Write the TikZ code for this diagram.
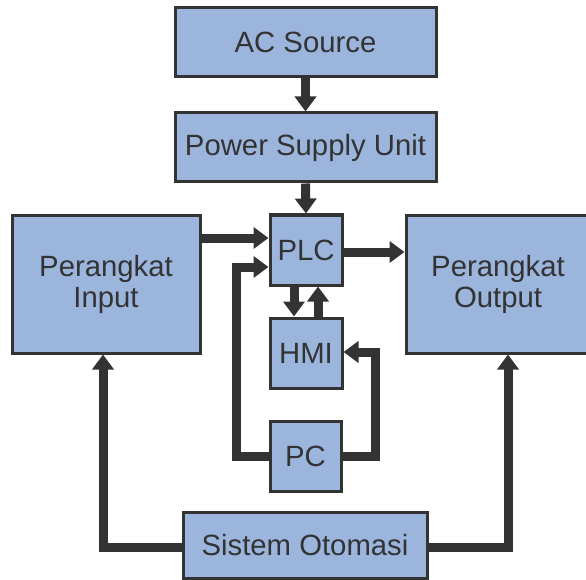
\documentclass[tikz,border=0pt]{standalone}
\usepackage{fontspec}
\setmainfont{Liberation Sans}
\usetikzlibrary{arrows.meta}
\definecolor{boxfill}{RGB}{155,181,221}
\definecolor{ink}{RGB}{51,51,51}
\begin{document}
\begin{tikzpicture}[x=1pt,y=-1pt,
  blk/.style={draw=ink,fill=boxfill,line width=3pt,text=ink,align=center,
    inner sep=0pt,font=\fontsize{29.3}{31}\selectfont},
  conn/.style={draw=ink,line width=9pt,-{Triangle[length=15pt,width=21pt]}}]
\useasboundingbox (0,0) rectangle (586,580);
\clip (0,0) rectangle (586,580);
\node[blk,minimum width=261pt,minimum height=69pt] (ac) at (305.5,42.5) {AC Source};
\node[blk,minimum width=261pt,minimum height=69pt] (psu) at (305.5,147.5) {Power Supply Unit};
\node[blk,minimum width=72pt,minimum height=70pt] (plc) at (306,250) {PLC};
\node[blk,minimum width=72pt,minimum height=70pt] (hmi) at (306,353) {HMI};
\node[blk,minimum width=71pt,minimum height=70pt] (pc) at (305.5,456) {PC};
\node[blk,minimum width=188pt,minimum height=138pt] (in) at (106,284) {Perangkat\\Input};
\node[blk,minimum width=184pt,minimum height=138pt] (out) at (498,284) {Perangkat\\Output};
\node[blk,minimum width=244pt,minimum height=66pt] (sis) at (305,545) {Sistem Otomasi};
\draw[conn] (ac.south) -- (psu.north);
\draw[conn] (psu.south) -- (plc.north);
\draw[conn] (in.east |- 0,238) -- (plc.west |- 0,238);
\draw[conn] (plc.east |- 0,252) -- (out.west |- 0,252);
\draw[conn] (plc.south -| 294,0) -- (hmi.north -| 294,0);
\draw[conn] (hmi.north -| 318,0) -- (plc.south -| 318,0);
\coordinate (pcl) at (236,267);
\coordinate (pcr) at (375,352);
\draw[conn] (pc.west) -| (pcl) -- (plc.west |- pcl);
\draw[conn] (pc.east) -| (pcr) -- (hmi.east |- pcr);
\draw[conn] (sis.west |- 0,547) -| (in.south -| 103,0);
\draw[conn] (sis.east |- 0,547) -| (out.south -| 508,0);
\end{tikzpicture}
\end{document}
